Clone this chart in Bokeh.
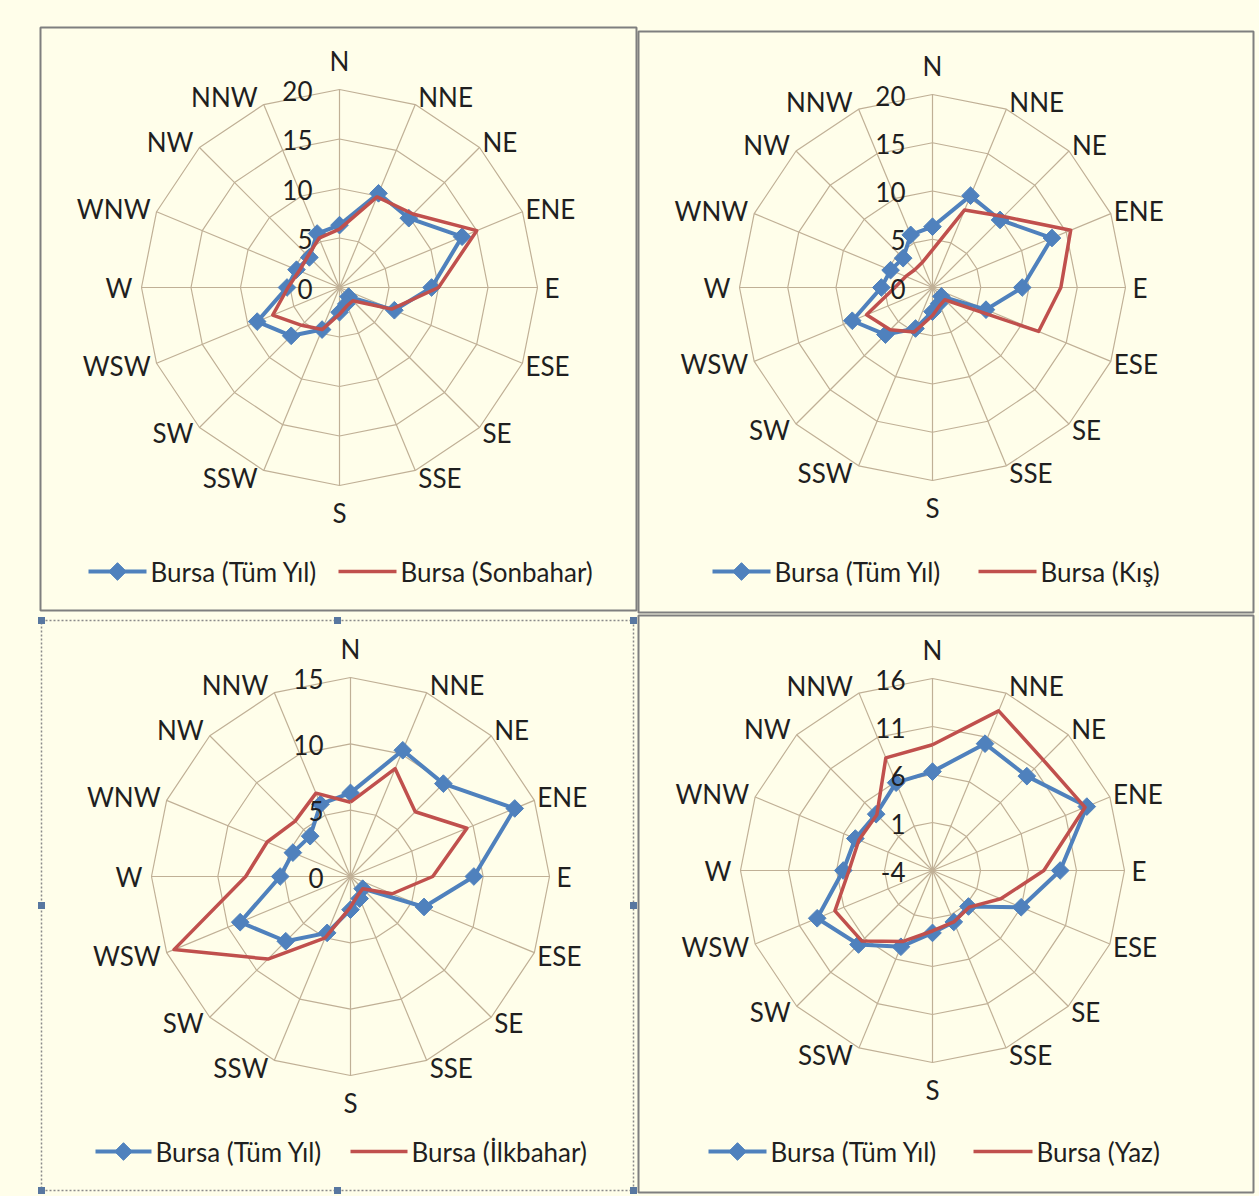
import math
from bokeh.plotting import figure
from bokeh.models import Range1d
from bokeh.embed import file_html
from bokeh.resources import INLINE
from bokeh.core.properties import value

# ---------------- data ----------------
directions = ["N", "NNE", "NE", "ENE", "E", "ESE", "SE", "SSE",
              "S", "SSW", "SW", "WSW", "W", "WNW", "NW", "NNW"]

tum_yil  = [6.3, 10.3, 9.9, 13.4, 9.3, 6.0, 1.3, 1.8, 2.5, 4.6, 6.9, 9.0, 5.3, 4.7, 4.3, 5.9]
sonbahar = [5.9, 9.9, 10.5, 15.0, 10.0, 5.7, 1.9, 2.0, 2.7, 4.6, 5.4, 7.3, 5.2, 4.4, 4.5, 5.4]
kis      = [3.9, 8.7, 10.4, 15.5, 13.3, 11.9, 1.8, 2.0, 2.9, 5.0, 6.2, 7.4, 3.9, 3.0, 2.6, 2.8]
ilkbahar = [5.6, 8.8, 6.9, 9.5, 6.2, 3.4, 1.3, 1.5, 2.3, 5.0, 8.8, 14.4, 7.9, 6.8, 5.9, 6.8]
yaz      = [9.1, 14.0, 12.3, 13.2, 7.6, 3.7, 1.4, 1.8, 2.3, 4.0, 6.4, 7.0, 4.7, 4.3, 4.2, 8.7]

ticks_sonbahar = [0, 5, 10, 15, 20]
ticks_kis      = [0, 5, 10, 15, 20]
ticks_ilkbahar = [0, 5, 10, 15]
ticks_yaz      = [-4, 1, 6, 11, 16]

label_all      = "Bursa (Tüm Yıl)"
label_sonbahar = "Bursa (Sonbahar)"
label_kis      = "Bursa (Kış)"
label_ilkbahar = "Bursa (İlkbahar)"
label_yaz      = "Bursa (Yaz)"

# ---------------- layout / style ----------------
BG = "#FFFEEA"
GRID = "#C0B096"
BLUE = "#4F81BD"
RED = "#C0504D"
TXT = "#1f1f1f"
FONT = value("Lato")
FS = "26px"
MSIZE = 12.5

panels = [
    dict(series=sonbahar, ticks=ticks_sonbahar, label=label_sonbahar, cx=339, cy=287, R=198,
         frame=(40, 636, 27, 610), dotted=False, ly=571, bl=(88, 146), rl=(338, 396)),
    dict(series=kis, ticks=ticks_kis, label=label_kis, cx=932, cy=287, R=193,
         frame=(638, 1253, 31, 612), dotted=False, ly=571, bl=(712, 770), rl=(978, 1036)),
    dict(series=ilkbahar, ticks=ticks_ilkbahar, label=label_ilkbahar, cx=350, cy=876, R=199,
         frame=(41, 633, 620, 1190), dotted=True, ly=1151, bl=(95, 151), rl=(350, 407)),
    dict(series=yaz, ticks=ticks_yaz, label=label_yaz, cx=932, cy=870, R=192,
         frame=(638, 1253, 615, 1192), dotted=False, ly=1151, bl=(708, 766), rl=(973, 1032)),
]

W, H = 1259, 1196
p = figure(width=W, height=H, x_range=Range1d(0, W), y_range=Range1d(H, 0),
           x_axis_type=None, y_axis_type=None, toolbar_location=None,
           output_backend="svg", min_border=0)
p.background_fill_color = BG
p.border_fill_color = BG
p.outline_line_color = None
p.xgrid.visible = False
p.ygrid.visible = False

n = len(directions)
angles = [i * 2 * math.pi / n for i in range(n)]

texts = {}


def add_text(x, y, t, align):
    d = texts.setdefault(align, dict(x=[], y=[], t=[]))
    d["x"].append(x)
    d["y"].append(y)
    d["t"].append(t)


def make_pos(cx, cy, R, vmin, vmax):
    def pos(v, a):
        r = (v - vmin) / (vmax - vmin) * R
        return cx + r * math.sin(a), cy - r * math.cos(a)
    return pos


grid_xs, grid_ys = [], []

for P in panels:
    cx, cy, R = P["cx"], P["cy"], P["R"]
    ticks = P["ticks"]
    pos = make_pos(cx, cy, R, ticks[0], ticks[-1])
    P["pos"] = pos

    # frame
    l, r_, t, b = P["frame"]
    if P["dotted"]:
        p.quad(left=[l], right=[r_], top=[t], bottom=[b], fill_color=None,
               line_color="#8A8A8A", line_width=1.5, line_dash="2 2")
        hx = [l, (l + r_) / 2, r_, l, r_, l, (l + r_) / 2, r_]
        hy = [t, t, t, (t + b) / 2, (t + b) / 2, b, b, b]
        p.rect(x=hx, y=hy, width=7, height=7, fill_color="#5877A0", line_color=None)
    else:
        p.quad(left=[l], right=[r_], top=[t], bottom=[b], fill_color=None,
               line_color="#7F7F7F", line_width=2)

    # rings
    for tv in ticks[1:]:
        pts = [pos(tv, a) for a in angles]
        pts.append(pts[0])
        grid_xs.append([q[0] for q in pts])
        grid_ys.append([q[1] for q in pts])
    # spokes
    for a in angles:
        ex, ey = pos(ticks[-1], a)
        grid_xs.append([cx, ex])
        grid_ys.append([cy, ey])

    # tick labels
    for tv in ticks:
        _, ty = pos(tv, 0)
        add_text(cx - 27, ty + 1, str(tv), "right")

    # category labels
    for i, (d, a) in enumerate(zip(directions, angles)):
        s, c = math.sin(a), math.cos(a)
        vx, vy = cx + R * s, cy - R * c
        if i == 0:
            add_text(cx, vy - 29, d, "center")
        elif i == 8:
            add_text(cx, vy + 27, d, "center")
        elif i == 4:
            add_text(vx + 7, cy, d, "left")
        elif i == 12:
            add_text(vx - 9, cy, d, "right")
        elif s > 0:
            add_text(vx + 3, vy - 8 * c, d, "left")
        else:
            add_text(vx - 6, vy - 8 * c, d, "right")

p.multi_line(xs=grid_xs, ys=grid_ys, line_color=GRID, line_width=1.2)

for P in panels:
    pos = P["pos"]
    bpts = [pos(v, a) for v, a in zip(tum_yil, angles)]
    bx = [q[0] for q in bpts]
    by = [q[1] for q in bpts]
    p.line(bx + [bx[0]], by + [by[0]], line_color=BLUE, line_width=4, line_join="round")
    p.scatter(bx, by, marker="square", size=MSIZE, angle=math.pi / 4,
              fill_color=BLUE, line_color=BLUE)
    rpts = [pos(v, a) for v, a in zip(P["series"], angles)]
    rx = [q[0] for q in rpts]
    ry = [q[1] for q in rpts]
    p.line(rx + [rx[0]], ry + [ry[0]], line_color=RED, line_width=3.5, line_join="round")

    # legend
    ly = P["ly"]
    b0, b1 = P["bl"]
    r0, r1 = P["rl"]
    p.line([b0, b1], [ly, ly], line_color=BLUE, line_width=4)
    p.scatter([(b0 + b1) / 2], [ly], marker="square", size=MSIZE, angle=math.pi / 4,
              fill_color=BLUE, line_color=BLUE)
    add_text(b1 + 4, ly, label_all, "left")
    p.line([r0, r1], [ly, ly], line_color=RED, line_width=3.5)
    add_text(r1 + 4, ly, P["label"], "left")

for align, d in texts.items():
    p.text(x=d["x"], y=d["y"], text=d["t"], text_font=FONT, text_font_size=FS,
           text_color=TXT, text_align=align, text_baseline="middle")

html = file_html(p, INLINE)
html = html.replace("<head>", "<head><style>html,body{margin:0;padding:0;background-color:#FFFEEA;}</style>", 1)
open("out.html", "w").write(html)
